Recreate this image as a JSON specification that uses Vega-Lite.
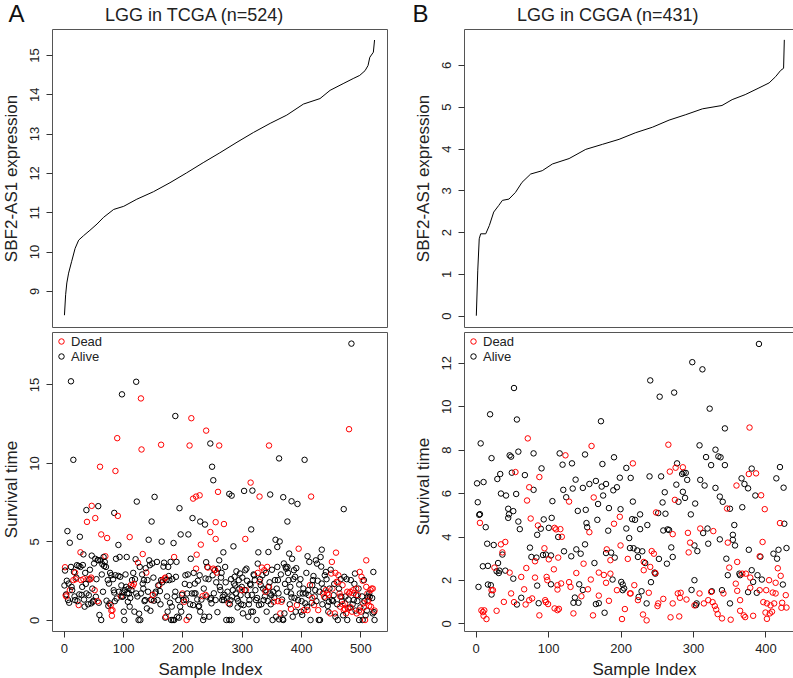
{
"$schema":"https://vega.github.io/schema/vega-lite/v6.json",
"padding":{"left":1,"top":2,"right":3,"bottom":0},
"config":{
 "font":"Liberation Sans",
 "view":{"stroke":"#555","strokeWidth":1},
 "axis":{"grid":false,"domain":false,"tickColor":"#333","tickSize":6,"labelFontSize":13,"titleFontSize":17,"titleFontWeight":"normal","labelColor":"#222","titleColor":"#222","labelFont":"Liberation Sans","titleFont":"Liberation Sans","labelOverlap":false,"labelFlush":false},
 "axisLeft":{"labelAngle":-90,"labelAlign":"center","labelBaseline":"bottom","labelPadding":5,"titlePadding":8},
 "axisBottom":{"labelPadding":5,"titlePadding":6},
 "legend":{"orient":"top-left","offset":3,"padding":0,"labelFontSize":13,"labelColor":"#222","symbolSize":30,"symbolStrokeWidth":1,"rowPadding":1,"labelOffset":3,"symbolType":"circle"},
 "title":{"font":"Liberation Sans","fontWeight":"normal","color":"#222"}
},
"datasets":{
"lineA":[{"i":1,"v":8.38},{"i":3,"v":8.9},{"i":5,"v":9.2},{"i":8,"v":9.45},{"i":13,"v":9.74},{"i":19,"v":10.08},{"i":25,"v":10.29},{"i":33,"v":10.4},{"i":44,"v":10.54},{"i":56,"v":10.7},{"i":67,"v":10.87},{"i":84,"v":11.07},{"i":101,"v":11.15},{"i":123,"v":11.33},{"i":151,"v":11.52},{"i":179,"v":11.75},{"i":207,"v":12.0},{"i":235,"v":12.26},{"i":263,"v":12.51},{"i":292,"v":12.78},{"i":320,"v":13.03},{"i":348,"v":13.26},{"i":376,"v":13.47},{"i":404,"v":13.75},{"i":432,"v":13.89},{"i":449,"v":14.1},{"i":471,"v":14.27},{"i":488,"v":14.4},{"i":499,"v":14.48},{"i":508,"v":14.6},{"i":513,"v":14.73},{"i":516,"v":14.94},{"i":522,"v":15.07},{"i":524,"v":15.38}],
"lineB":[{"i":1,"v":0},{"i":3,"v":1.09},{"i":5,"v":1.84},{"i":7,"v":1.96},{"i":14,"v":1.96},{"i":19,"v":2.16},{"i":25,"v":2.48},{"i":32,"v":2.64},{"i":37,"v":2.76},{"i":46,"v":2.79},{"i":55,"v":2.95},{"i":64,"v":3.19},{"i":76,"v":3.39},{"i":92,"v":3.47},{"i":106,"v":3.63},{"i":129,"v":3.76},{"i":152,"v":3.98},{"i":175,"v":4.1},{"i":198,"v":4.22},{"i":221,"v":4.38},{"i":244,"v":4.51},{"i":267,"v":4.68},{"i":290,"v":4.81},{"i":313,"v":4.95},{"i":340,"v":5.03},{"i":354,"v":5.17},{"i":372,"v":5.29},{"i":391,"v":5.45},{"i":405,"v":5.57},{"i":414,"v":5.72},{"i":421,"v":5.87},{"i":425,"v":5.92},{"i":426,"v":6.6}],
"scatA":[
{"i":12,"t":15.2,"s":"Alive"},{"i":16,"t":10.2,"s":"Alive"},{"i":6,"t":5.66,"s":"Alive"},{"i":10,"t":4.92,"s":"Alive"},{"i":27,"t":5.3,"s":"Alive"},{"i":38,"t":7.0,"s":"Alive"},{"i":58,"t":7.25,"s":"Alive"},{"i":85,"t":6.82,"s":"Alive"},{"i":92,"t":4.78,"s":"Alive"},{"i":98,"t":14.37,"s":"Alive"},{"i":122,"t":15.17,"s":"Alive"},{"i":123,"t":7.54,"s":"Alive"},{"i":143,"t":5.11,"s":"Alive"},{"i":148,"t":6.27,"s":"Alive"},{"i":153,"t":7.84,"s":"Alive"},{"i":165,"t":4.99,"s":"Alive"},{"i":188,"t":12.99,"s":"Alive"},{"i":195,"t":7.12,"s":"Alive"},{"i":197,"t":5.45,"s":"Alive"},{"i":185,"t":4.9,"s":"Alive"},{"i":210,"t":5.45,"s":"Alive"},{"i":217,"t":6.49,"s":"Alive"},{"i":230,"t":6.27,"s":"Alive"},{"i":238,"t":6.08,"s":"Alive"},{"i":247,"t":11.24,"s":"Alive"},{"i":250,"t":9.76,"s":"Alive"},{"i":252,"t":8.9,"s":"Alive"},{"i":269,"t":4.31,"s":"Alive"},{"i":279,"t":8.03,"s":"Alive"},{"i":283,"t":7.92,"s":"Alive"},{"i":286,"t":4.69,"s":"Alive"},{"i":304,"t":8.22,"s":"Alive"},{"i":318,"t":8.24,"s":"Alive"},{"i":316,"t":5.77,"s":"Alive"},{"i":328,"t":4.31,"s":"Alive"},{"i":345,"t":4.33,"s":"Alive"},{"i":348,"t":7.99,"s":"Alive"},{"i":357,"t":5.11,"s":"Alive"},{"i":363,"t":10.29,"s":"Alive"},{"i":364,"t":5.0,"s":"Alive"},{"i":360,"t":4.65,"s":"Alive"},{"i":370,"t":7.82,"s":"Alive"},{"i":377,"t":6.27,"s":"Alive"},{"i":380,"t":4.23,"s":"Alive"},{"i":384,"t":7.56,"s":"Alive"},{"i":394,"t":7.39,"s":"Alive"},{"i":406,"t":10.2,"s":"Alive"},{"i":411,"t":4.06,"s":"Alive"},{"i":435,"t":4.48,"s":"Alive"},{"i":472,"t":7.06,"s":"Alive"},{"i":485,"t":17.6,"s":"Alive"},
{"i":130,"t":14.11,"s":"Dead"},{"i":90,"t":11.58,"s":"Dead"},{"i":131,"t":10.86,"s":"Dead"},{"i":164,"t":11.16,"s":"Dead"},{"i":215,"t":12.85,"s":"Dead"},{"i":212,"t":11.11,"s":"Dead"},{"i":240,"t":12.06,"s":"Dead"},{"i":262,"t":11.11,"s":"Dead"},{"i":346,"t":11.11,"s":"Dead"},{"i":61,"t":9.76,"s":"Dead"},{"i":87,"t":9.49,"s":"Dead"},{"i":91,"t":6.63,"s":"Dead"},{"i":47,"t":7.27,"s":"Dead"},{"i":39,"t":6.25,"s":"Dead"},{"i":53,"t":6.49,"s":"Dead"},{"i":63,"t":5.45,"s":"Dead"},{"i":73,"t":5.22,"s":"Dead"},{"i":111,"t":5.28,"s":"Dead"},{"i":218,"t":7.73,"s":"Dead"},{"i":223,"t":7.86,"s":"Dead"},{"i":229,"t":7.94,"s":"Dead"},{"i":260,"t":8.16,"s":"Dead"},{"i":256,"t":6.23,"s":"Dead"},{"i":270,"t":6.11,"s":"Dead"},{"i":247,"t":5.6,"s":"Dead"},{"i":256,"t":5.16,"s":"Dead"},{"i":231,"t":4.8,"s":"Dead"},{"i":315,"t":8.75,"s":"Dead"},{"i":330,"t":7.86,"s":"Dead"},{"i":306,"t":5.16,"s":"Dead"},{"i":417,"t":7.86,"s":"Dead"},{"i":396,"t":4.54,"s":"Dead"},{"i":481,"t":12.15,"s":"Dead"},{"i":28,"t":4.31,"s":"Dead"},{"i":133,"t":4.2,"s":"Dead"},{"i":70,"t":4.06,"s":"Dead"},{"i":186,"t":4.01,"s":"Dead"},{"i":459,"t":4.29,"s":"Dead"},{"i":510,"t":3.8,"s":"Dead"},{"i":224,"t":4.16,"s":"Dead"},
{"i":2,"t":3.36,"s":"Dead"},{"i":3,"t":1.58,"s":"Dead"},{"i":2,"t":3.15,"s":"Alive"},{"i":4,"t":1.63,"s":"Alive"},{"i":7,"t":1.27,"s":"Alive"},{"i":10,"t":1.9,"s":"Dead"},{"i":8,"t":2.32,"s":"Alive"},{"i":12,"t":3.38,"s":"Alive"},{"i":13,"t":2.11,"s":"Alive"},{"i":16,"t":2.54,"s":"Dead"},{"i":17,"t":3.06,"s":"Alive"},{"i":19,"t":3.02,"s":"Dead"},{"i":19,"t":1.27,"s":"Alive"},{"i":22,"t":3.49,"s":"Alive"},{"i":25,"t":3.44,"s":"Alive"},{"i":25,"t":0.95,"s":"Dead"},{"i":26,"t":1.63,"s":"Alive"},{"i":28,"t":3.38,"s":"Alive"},{"i":29,"t":2.54,"s":"Dead"},{"i":31,"t":2.11,"s":"Alive"},{"i":33,"t":4.18,"s":"Alive"},{"i":33,"t":2.6,"s":"Dead"},{"i":35,"t":0.85,"s":"Alive"},{"i":36,"t":3.0,"s":"Alive"},{"i":38,"t":1.69,"s":"Alive"},{"i":40,"t":2.6,"s":"Dead"},{"i":42,"t":1.58,"s":"Alive"},{"i":43,"t":2.58,"s":"Alive"},{"i":45,"t":2.6,"s":"Dead"},{"i":46,"t":1.06,"s":"Alive"},{"i":47,"t":4.1,"s":"Alive"},{"i":49,"t":1.16,"s":"Alive"},{"i":50,"t":1.23,"s":"Alive"},{"i":52,"t":1.9,"s":"Dead"},{"i":53,"t":3.9,"s":"Alive"},{"i":54,"t":1.48,"s":"Alive"},{"i":57,"t":3.82,"s":"Alive"},{"i":58,"t":3.8,"s":"Alive"},{"i":60,"t":0.32,"s":"Alive"},{"i":62,"t":3.8,"s":"Alive"},{"i":63,"t":0.0,"s":"Alive"},{"i":65,"t":3.55,"s":"Alive"},{"i":67,"t":4.01,"s":"Alive"},{"i":68,"t":3.44,"s":"Alive"},{"i":71,"t":3.38,"s":"Alive"},{"i":72,"t":1.23,"s":"Alive"},{"i":74,"t":2.54,"s":"Alive"},{"i":76,"t":2.32,"s":"Alive"},{"i":77,"t":1.06,"s":"Alive"},{"i":79,"t":0.95,"s":"Dead"},{"i":80,"t":2.85,"s":"Alive"},{"i":81,"t":0.27,"s":"Dead"},{"i":82,"t":0.63,"s":"Dead"},{"i":84,"t":1.9,"s":"Alive"},{"i":85,"t":1.75,"s":"Alive"},{"i":87,"t":2.85,"s":"Alive"},{"i":89,"t":1.37,"s":"Alive"},{"i":92,"t":2.81,"s":"Alive"},{"i":94,"t":4.01,"s":"Alive"},{"i":95,"t":2.75,"s":"Alive"},{"i":96,"t":1.52,"s":"Dead"},{"i":98,"t":1.48,"s":"Alive"},{"i":99,"t":1.75,"s":"Alive"},{"i":101,"t":0.53,"s":"Alive"},{"i":102,"t":0,"s":"Alive"},{"i":103,"t":1.9,"s":"Alive"},{"i":105,"t":2.11,"s":"Alive"},{"i":106,"t":4.01,"s":"Alive"},{"i":108,"t":1.16,"s":"Alive"},{"i":110,"t":1.69,"s":"Alive"},{"i":111,"t":0.85,"s":"Alive"},{"i":113,"t":2.22,"s":"Dead"},{"i":115,"t":2.54,"s":"Alive"},{"i":116,"t":2.16,"s":"Dead"},{"i":119,"t":0.53,"s":"Alive"},{"i":121,"t":3.87,"s":"Alive"},{"i":122,"t":1.69,"s":"Alive"},{"i":125,"t":3.65,"s":"Dead"},{"i":126,"t":0,"s":"Alive"},{"i":128,"t":3.38,"s":"Alive"},{"i":129,"t":0,"s":"Alive"},{"i":130,"t":1.69,"s":"Alive"},{"i":133,"t":2.32,"s":"Alive"},{"i":135,"t":2.54,"s":"Alive"},{"i":139,"t":3.02,"s":"Dead"},{"i":137,"t":1.27,"s":"Alive"},{"i":140,"t":0.74,"s":"Alive"},{"i":141,"t":2.54,"s":"Alive"},{"i":144,"t":3.8,"s":"Alive"},{"i":145,"t":3.49,"s":"Alive"},{"i":146,"t":0.59,"s":"Alive"},{"i":148,"t":1.27,"s":"Dead"},{"i":151,"t":2.7,"s":"Alive"},{"i":152,"t":1.23,"s":"Alive"},{"i":154,"t":1.69,"s":"Alive"},{"i":157,"t":3.7,"s":"Alive"},{"i":158,"t":1.27,"s":"Alive"},{"i":161,"t":2.22,"s":"Dead"},{"i":162,"t":1.84,"s":"Alive"},{"i":164,"t":2.54,"s":"Alive"},{"i":167,"t":2.54,"s":"Dead"},{"i":169,"t":3.65,"s":"Alive"},{"i":170,"t":2.64,"s":"Dead"},{"i":171,"t":0.15,"s":"Alive"},{"i":172,"t":0.21,"s":"Dead"},{"i":173,"t":2.54,"s":"Alive"},{"i":175,"t":0.53,"s":"Alive"},{"i":176,"t":3.38,"s":"Alive"},{"i":178,"t":2.54,"s":"Alive"},{"i":180,"t":3.7,"s":"Alive"},{"i":181,"t":0,"s":"Alive"},{"i":182,"t":0.85,"s":"Alive"},{"i":184,"t":0,"s":"Alive"},{"i":186,"t":0,"s":"Alive"},{"i":188,"t":1.8,"s":"Alive"},{"i":189,"t":2.75,"s":"Alive"},{"i":191,"t":0.21,"s":"Alive"},{"i":193,"t":1.27,"s":"Alive"},{"i":194,"t":0.15,"s":"Alive"},{"i":196,"t":0.85,"s":"Alive"},{"i":198,"t":0.53,"s":"Alive"},{"i":200,"t":1.69,"s":"Dead"},{"i":202,"t":1.27,"s":"Alive"},{"i":203,"t":1.16,"s":"Dead"},{"i":205,"t":2.85,"s":"Alive"},{"i":207,"t":0,"s":"Dead"},{"i":208,"t":1.69,"s":"Alive"},{"i":211,"t":0.21,"s":"Alive"},{"i":212,"t":2.22,"s":"Alive"},{"i":214,"t":3.9,"s":"Alive"},{"i":216,"t":1.69,"s":"Alive"},{"i":218,"t":0.95,"s":"Alive"},{"i":220,"t":1.69,"s":"Alive"},{"i":221,"t":2.32,"s":"Alive"},{"i":223,"t":3.27,"s":"Dead"},{"i":225,"t":1.31,"s":"Alive"},{"i":227,"t":0.85,"s":"Alive"},{"i":229,"t":2.85,"s":"Alive"},{"i":230,"t":0.53,"s":"Alive"},{"i":234,"t":1.52,"s":"Dead"},{"i":235,"t":0,"s":"Alive"},{"i":237,"t":0.21,"s":"Alive"},{"i":239,"t":2.64,"s":"Alive"},{"i":240,"t":3.68,"s":"Alive"},{"i":242,"t":3.38,"s":"Alive"},{"i":243,"t":3.34,"s":"Dead"},{"i":245,"t":0.21,"s":"Alive"},{"i":247,"t":1.31,"s":"Alive"},{"i":249,"t":1.06,"s":"Alive"},{"i":251,"t":2.85,"s":"Alive"},{"i":252,"t":3.27,"s":"Dead"},{"i":254,"t":3.17,"s":"Alive"},{"i":256,"t":1.27,"s":"Alive"},{"i":258,"t":3.02,"s":"Dead"},{"i":260,"t":3.27,"s":"Alive"},{"i":262,"t":3.8,"s":"Alive"},{"i":263,"t":2.11,"s":"Alive"},{"i":265,"t":2.7,"s":"Alive"},{"i":267,"t":1.27,"s":"Alive"},{"i":268,"t":1.48,"s":"Alive"},{"i":270,"t":1.27,"s":"Alive"},{"i":272,"t":3.38,"s":"Alive"},{"i":274,"t":0,"s":"Alive"},{"i":275,"t":1.37,"s":"Alive"},{"i":278,"t":1.06,"s":"Dead"},{"i":279,"t":0,"s":"Alive"},{"i":281,"t":1.27,"s":"Alive"},{"i":283,"t":0,"s":"Alive"},{"i":285,"t":1.9,"s":"Alive"},{"i":287,"t":2.32,"s":"Alive"},{"i":288,"t":2.75,"s":"Alive"},{"i":290,"t":1.69,"s":"Alive"},{"i":292,"t":1.37,"s":"Alive"},{"i":293,"t":0.8,"s":"Alive"},{"i":295,"t":2.54,"s":"Alive"},{"i":297,"t":2.96,"s":"Alive"},{"i":298,"t":1.58,"s":"Alive"},{"i":300,"t":2.11,"s":"Alive"},{"i":302,"t":0.42,"s":"Alive"},{"i":303,"t":0.95,"s":"Alive"},{"i":306,"t":3.17,"s":"Alive"},{"i":308,"t":3.27,"s":"Alive"},{"i":307,"t":1.9,"s":"Dead"},{"i":310,"t":1.58,"s":"Alive"},{"i":311,"t":0.21,"s":"Alive"},{"i":313,"t":1.27,"s":"Alive"},{"i":315,"t":2.22,"s":"Alive"},{"i":316,"t":0.53,"s":"Alive"},{"i":319,"t":0.53,"s":"Alive"},{"i":321,"t":2.85,"s":"Alive"},{"i":322,"t":2.54,"s":"Alive"},{"i":324,"t":1.27,"s":"Alive"},{"i":325,"t":0,"s":"Alive"},{"i":327,"t":3.59,"s":"Alive"},{"i":329,"t":0.95,"s":"Alive"},{"i":330,"t":2.43,"s":"Dead"},{"i":332,"t":2.22,"s":"Alive"},{"i":334,"t":3.34,"s":"Dead"},{"i":335,"t":2.85,"s":"Alive"},{"i":337,"t":1.27,"s":"Alive"},{"i":338,"t":3.17,"s":"Dead"},{"i":340,"t":1.9,"s":"Alive"},{"i":342,"t":0.53,"s":"Alive"},{"i":343,"t":3.38,"s":"Dead"},{"i":345,"t":2.11,"s":"Alive"},{"i":346,"t":2.11,"s":"Dead"},{"i":348,"t":1.69,"s":"Alive"},{"i":350,"t":1.58,"s":"Alive"},{"i":352,"t":0,"s":"Alive"},{"i":354,"t":1.16,"s":"Dead"},{"i":356,"t":2.54,"s":"Alive"},{"i":358,"t":0.21,"s":"Alive"},{"i":360,"t":3.38,"s":"Alive"},{"i":361,"t":2.54,"s":"Alive"},{"i":363,"t":0.04,"s":"Alive"},{"i":365,"t":0.42,"s":"Dead"},{"i":367,"t":1.16,"s":"Dead"},{"i":369,"t":0.04,"s":"Alive"},{"i":370,"t":0,"s":"Alive"},{"i":372,"t":0.42,"s":"Alive"},{"i":374,"t":3.38,"s":"Alive"},{"i":375,"t":3.27,"s":"Alive"},{"i":377,"t":3.38,"s":"Alive"},{"i":379,"t":2.54,"s":"Alive"},{"i":382,"t":2.11,"s":"Alive"},{"i":383,"t":1.69,"s":"Alive"},{"i":384,"t":1.44,"s":"Alive"},{"i":386,"t":0.21,"s":"Alive"},{"i":388,"t":3.17,"s":"Alive"},{"i":390,"t":2.75,"s":"Alive"},{"i":391,"t":0.53,"s":"Alive"},{"i":393,"t":0.95,"s":"Dead"},{"i":395,"t":1.27,"s":"Alive"},{"i":397,"t":2.26,"s":"Alive"},{"i":398,"t":1.69,"s":"Alive"},{"i":400,"t":0.53,"s":"Alive"},{"i":402,"t":0.32,"s":"Alive"},{"i":403,"t":1.69,"s":"Alive"},{"i":405,"t":0.63,"s":"Dead"},{"i":407,"t":1.06,"s":"Alive"},{"i":408,"t":1.69,"s":"Alive"},{"i":410,"t":0.85,"s":"Alive"},{"i":411,"t":0.63,"s":"Dead"},{"i":413,"t":1.58,"s":"Alive"},{"i":415,"t":2.22,"s":"Dead"},{"i":416,"t":0,"s":"Alive"},{"i":419,"t":2.22,"s":"Alive"},{"i":420,"t":2.54,"s":"Alive"},{"i":422,"t":0.95,"s":"Dead"},{"i":424,"t":1.9,"s":"Alive"},{"i":425,"t":3.8,"s":"Alive"},{"i":427,"t":3.59,"s":"Alive"},{"i":429,"t":0.63,"s":"Dead"},{"i":430,"t":0,"s":"Alive"},{"i":432,"t":0,"s":"Alive"},{"i":433,"t":4.01,"s":"Alive"},{"i":435,"t":2.32,"s":"Alive"},{"i":437,"t":1.69,"s":"Dead"},{"i":439,"t":1.48,"s":"Dead"},{"i":440,"t":2.85,"s":"Alive"},{"i":442,"t":3.06,"s":"Alive"},{"i":444,"t":1.69,"s":"Dead"},{"i":446,"t":0.53,"s":"Alive"},{"i":447,"t":1.16,"s":"Alive"},{"i":449,"t":0.42,"s":"Dead"},{"i":451,"t":2.96,"s":"Dead"},{"i":452,"t":1.27,"s":"Alive"},{"i":453,"t":2.0,"s":"Dead"},{"i":455,"t":1.58,"s":"Alive"},{"i":457,"t":0.42,"s":"Dead"},{"i":458,"t":0.21,"s":"Alive"},{"i":460,"t":2.43,"s":"Dead"},{"i":462,"t":0,"s":"Alive"},{"i":463,"t":2.85,"s":"Dead"},{"i":465,"t":1.69,"s":"Dead"},{"i":466,"t":0.85,"s":"Dead"},{"i":468,"t":1.48,"s":"Alive"},{"i":470,"t":2.22,"s":"Dead"},{"i":472,"t":0.63,"s":"Dead"},{"i":473,"t":2.75,"s":"Alive"},{"i":474,"t":1.06,"s":"Dead"},{"i":476,"t":0.42,"s":"Dead"},{"i":478,"t":0,"s":"Alive"},{"i":479,"t":0.74,"s":"Dead"},{"i":481,"t":1.69,"s":"Dead"},{"i":483,"t":1.8,"s":"Dead"},{"i":484,"t":2.54,"s":"Alive"},{"i":486,"t":0.53,"s":"Dead"},{"i":488,"t":1.9,"s":"Dead"},{"i":489,"t":1.27,"s":"Alive"},{"i":491,"t":2.96,"s":"Alive"},{"i":493,"t":1.58,"s":"Alive"},{"i":494,"t":0.42,"s":"Dead"},{"i":496,"t":1.58,"s":"Dead"},{"i":498,"t":0,"s":"Alive"},{"i":499,"t":3.06,"s":"Dead"},{"i":501,"t":0.53,"s":"Dead"},{"i":502,"t":2.75,"s":"Dead"},{"i":504,"t":0,"s":"Alive"},{"i":505,"t":1.06,"s":"Dead"},{"i":506,"t":2.54,"s":"Alive"},{"i":508,"t":0,"s":"Dead"},{"i":510,"t":2.11,"s":"Dead"},{"i":512,"t":1.69,"s":"Dead"},{"i":514,"t":1.27,"s":"Dead"},{"i":515,"t":1.69,"s":"Alive"},{"i":516,"t":1.48,"s":"Alive"},{"i":517,"t":1.9,"s":"Dead"},{"i":519,"t":2.0,"s":"Dead"},{"i":521,"t":0.42,"s":"Alive"},{"i":522,"t":3.06,"s":"Alive"},{"i":524,"t":0,"s":"Alive"},{"i":518,"t":0.85,"s":"Dead"},
{"i":1,"t":2.2,"s":"Alive"},{"i":5,"t":2.5,"s":"Alive"},{"i":9,"t":1.1,"s":"Alive"},{"i":14,"t":1.9,"s":"Alive"},{"i":18,"t":1.5,"s":"Alive"},{"i":21,"t":2.7,"s":"Alive"},{"i":23,"t":1.2,"s":"Alive"},{"i":30,"t":1.6,"s":"Alive"},{"i":32,"t":3.5,"s":"Alive"},{"i":34,"t":1.3,"s":"Alive"},{"i":37,"t":2.3,"s":"Alive"},{"i":41,"t":1.0,"s":"Alive"},{"i":44,"t":3.2,"s":"Alive"},{"i":48,"t":2.0,"s":"Alive"},{"i":51,"t":3.6,"s":"Alive"},{"i":55,"t":2.6,"s":"Alive"},{"i":59,"t":1.1,"s":"Alive"},{"i":64,"t":2.9,"s":"Alive"},{"i":66,"t":1.8,"s":"Alive"},{"i":69,"t":3.7,"s":"Alive"},{"i":75,"t":0.9,"s":"Alive"},{"i":78,"t":3.0,"s":"Alive"},{"i":83,"t":2.6,"s":"Alive"},{"i":86,"t":1.2,"s":"Alive"},{"i":88,"t":3.9,"s":"Alive"},{"i":93,"t":1.8,"s":"Alive"},{"i":97,"t":2.2,"s":"Alive"},{"i":100,"t":1.5,"s":"Alive"},{"i":104,"t":2.9,"s":"Alive"},{"i":107,"t":1.7,"s":"Alive"},{"i":109,"t":2.0,"s":"Alive"},{"i":112,"t":1.4,"s":"Alive"},{"i":114,"t":1.9,"s":"Alive"},{"i":117,"t":3.0,"s":"Alive"},{"i":120,"t":2.6,"s":"Alive"},{"i":124,"t":1.5,"s":"Alive"},{"i":127,"t":0.4,"s":"Alive"},{"i":132,"t":2.9,"s":"Alive"},{"i":134,"t":2.0,"s":"Alive"},{"i":136,"t":1.2,"s":"Alive"},{"i":138,"t":3.3,"s":"Alive"},{"i":142,"t":1.8,"s":"Alive"},{"i":147,"t":1.3,"s":"Alive"},{"i":149,"t":3.6,"s":"Alive"},{"i":155,"t":1.8,"s":"Alive"},{"i":159,"t":2.2,"s":"Alive"},{"i":163,"t":1.0,"s":"Alive"},{"i":166,"t":2.4,"s":"Alive"},{"i":168,"t":3.4,"s":"Alive"},{"i":174,"t":1.5,"s":"Alive"},{"i":177,"t":2.8,"s":"Alive"},{"i":179,"t":1.1,"s":"Alive"},{"i":183,"t":2.6,"s":"Alive"},{"i":187,"t":1.5,"s":"Alive"},{"i":190,"t":3.7,"s":"Alive"},{"i":199,"t":1.6,"s":"Alive"},{"i":204,"t":2.3,"s":"Alive"},{"i":206,"t":1.3,"s":"Alive"},{"i":209,"t":2.9,"s":"Alive"},{"i":213,"t":1.0,"s":"Alive"},{"i":219,"t":3.0,"s":"Alive"},{"i":222,"t":1.7,"s":"Alive"},{"i":226,"t":2.5,"s":"Alive"},{"i":228,"t":0.9,"s":"Alive"},{"i":232,"t":1.3,"s":"Alive"},{"i":236,"t":2.0,"s":"Alive"},{"i":241,"t":1.5,"s":"Alive"},{"i":244,"t":2.6,"s":"Alive"},{"i":248,"t":1.4,"s":"Alive"},{"i":253,"t":1.7,"s":"Alive"},{"i":257,"t":2.4,"s":"Alive"},{"i":259,"t":0.5,"s":"Alive"},{"i":264,"t":1.9,"s":"Alive"},{"i":266,"t":3.0,"s":"Alive"},{"i":271,"t":1.6,"s":"Alive"},{"i":273,"t":2.4,"s":"Alive"},{"i":276,"t":1.8,"s":"Alive"},{"i":280,"t":1.0,"s":"Alive"},{"i":282,"t":2.6,"s":"Alive"},{"i":284,"t":1.5,"s":"Alive"},{"i":289,"t":2.2,"s":"Alive"},{"i":291,"t":3.1,"s":"Alive"},{"i":294,"t":1.2,"s":"Alive"},{"i":296,"t":2.0,"s":"Alive"},{"i":299,"t":1.0,"s":"Alive"},{"i":301,"t":2.7,"s":"Alive"},{"i":305,"t":1.9,"s":"Alive"},{"i":309,"t":2.5,"s":"Alive"},{"i":312,"t":1.0,"s":"Alive"},{"i":314,"t":2.3,"s":"Alive"},{"i":317,"t":1.6,"s":"Alive"},{"i":320,"t":2.9,"s":"Alive"},{"i":323,"t":1.9,"s":"Alive"},{"i":326,"t":1.4,"s":"Alive"},{"i":331,"t":2.6,"s":"Alive"},{"i":333,"t":1.0,"s":"Alive"},{"i":336,"t":2.0,"s":"Alive"},{"i":339,"t":1.5,"s":"Alive"},{"i":341,"t":3.0,"s":"Alive"},{"i":344,"t":1.2,"s":"Alive"},{"i":347,"t":2.4,"s":"Alive"},{"i":349,"t":1.0,"s":"Alive"},{"i":351,"t":3.2,"s":"Alive"},{"i":353,"t":1.8,"s":"Alive"},{"i":355,"t":1.4,"s":"Alive"},{"i":359,"t":2.0,"s":"Alive"},{"i":362,"t":1.7,"s":"Alive"},{"i":366,"t":2.9,"s":"Alive"},{"i":368,"t":1.3,"s":"Alive"},{"i":371,"t":3.6,"s":"Alive"},{"i":373,"t":2.3,"s":"Alive"},{"i":376,"t":1.8,"s":"Alive"},{"i":378,"t":3.0,"s":"Alive"},{"i":381,"t":1.0,"s":"Alive"},{"i":385,"t":3.9,"s":"Alive"},{"i":387,"t":2.6,"s":"Alive"},{"i":389,"t":1.4,"s":"Alive"},{"i":392,"t":3.3,"s":"Alive"},{"i":399,"t":2.6,"s":"Alive"},{"i":401,"t":1.2,"s":"Alive"},{"i":404,"t":2.0,"s":"Alive"},{"i":409,"t":3.0,"s":"Alive"},{"i":412,"t":1.9,"s":"Alive"},{"i":414,"t":3.7,"s":"Alive"},{"i":418,"t":1.1,"s":"Alive"},{"i":421,"t":2.8,"s":"Alive"},{"i":423,"t":1.5,"s":"Alive"},{"i":426,"t":1.2,"s":"Alive"},{"i":428,"t":2.5,"s":"Alive"},{"i":431,"t":1.8,"s":"Alive"},{"i":434,"t":3.4,"s":"Alive"},{"i":436,"t":1.0,"s":"Alive"},{"i":438,"t":2.0,"s":"Alive"},{"i":441,"t":1.4,"s":"Alive"},{"i":443,"t":2.6,"s":"Alive"},{"i":445,"t":0.9,"s":"Alive"},{"i":448,"t":2.0,"s":"Alive"},{"i":450,"t":3.2,"s":"Alive"},{"i":454,"t":1.2,"s":"Alive"},{"i":456,"t":2.3,"s":"Alive"},{"i":461,"t":1.0,"s":"Alive"},{"i":464,"t":2.0,"s":"Alive"},{"i":467,"t":2.6,"s":"Alive"},{"i":469,"t":1.2,"s":"Alive"},{"i":471,"t":0.3,"s":"Alive"},{"i":475,"t":1.5,"s":"Alive"},{"i":477,"t":2.6,"s":"Alive"},{"i":480,"t":1.3,"s":"Alive"},{"i":482,"t":0.8,"s":"Alive"},{"i":487,"t":1.0,"s":"Alive"},{"i":490,"t":2.3,"s":"Alive"},{"i":492,"t":0.6,"s":"Alive"},{"i":495,"t":1.2,"s":"Alive"},{"i":497,"t":2.0,"s":"Alive"},{"i":500,"t":0.8,"s":"Alive"},{"i":503,"t":1.5,"s":"Alive"},{"i":507,"t":1.2,"s":"Alive"},{"i":509,"t":0.3,"s":"Alive"},{"i":511,"t":0.6,"s":"Alive"},{"i":513,"t":1.5,"s":"Alive"},{"i":520,"t":1.4,"s":"Alive"},{"i":523,"t":0.5,"s":"Alive"},
{"i":4,"t":1.5,"s":"Dead"},{"i":20,"t":2.6,"s":"Dead"},{"i":46,"t":2.7,"s":"Dead"},{"i":57,"t":1.2,"s":"Dead"},{"i":80,"t":0.6,"s":"Dead"},{"i":118,"t":2.3,"s":"Dead"},{"i":150,"t":1.6,"s":"Dead"},{"i":171,"t":2.7,"s":"Dead"},{"i":239,"t":1.6,"s":"Dead"},{"i":255,"t":3.2,"s":"Dead"},{"i":300,"t":1.9,"s":"Dead"},{"i":327,"t":3.0,"s":"Dead"},{"i":340,"t":1.8,"s":"Dead"},{"i":361,"t":1.2,"s":"Dead"},{"i":383,"t":0.7,"s":"Dead"},{"i":419,"t":1.4,"s":"Dead"},{"i":442,"t":1.9,"s":"Dead"},{"i":447,"t":1.6,"s":"Dead"},{"i":452,"t":3.7,"s":"Dead"},{"i":458,"t":3.0,"s":"Dead"},{"i":462,"t":2.4,"s":"Dead"},{"i":466,"t":1.5,"s":"Dead"},{"i":470,"t":1.0,"s":"Dead"},{"i":474,"t":0.7,"s":"Dead"},{"i":478,"t":1.8,"s":"Dead"},{"i":484,"t":0.8,"s":"Dead"},{"i":489,"t":1.7,"s":"Dead"},{"i":493,"t":2.0,"s":"Dead"},{"i":498,"t":0.6,"s":"Dead"},{"i":504,"t":2.5,"s":"Dead"},{"i":506,"t":0.8,"s":"Dead"},{"i":512,"t":1.2,"s":"Dead"},{"i":515,"t":0.9,"s":"Dead"},{"i":521,"t":2.0,"s":"Dead"},{"i":524,"t":0.6,"s":"Dead"}
],
"scatB":[
{"i":391,"t":12.87,"s":"Alive"},{"i":299,"t":12.03,"s":"Alive"},{"i":313,"t":11.7,"s":"Alive"},{"i":241,"t":11.19,"s":"Alive"},{"i":254,"t":10.44,"s":"Alive"},{"i":274,"t":10.63,"s":"Alive"},{"i":53,"t":10.84,"s":"Alive"},{"i":323,"t":9.89,"s":"Alive"},{"i":20,"t":9.63,"s":"Alive"},{"i":57,"t":9.39,"s":"Alive"},{"i":173,"t":9.31,"s":"Alive"},{"i":344,"t":8.98,"s":"Alive"},{"i":7,"t":8.29,"s":"Alive"},{"i":309,"t":8.2,"s":"Alive"},{"i":331,"t":8.0,"s":"Alive"},{"i":22,"t":7.61,"s":"Alive"},{"i":47,"t":7.74,"s":"Alive"},{"i":49,"t":7.68,"s":"Alive"},{"i":59,"t":7.91,"s":"Alive"},{"i":80,"t":7.83,"s":"Alive"},{"i":116,"t":7.83,"s":"Alive"},{"i":151,"t":7.78,"s":"Alive"},{"i":191,"t":7.65,"s":"Alive"},{"i":318,"t":7.66,"s":"Alive"},{"i":335,"t":7.69,"s":"Alive"},{"i":338,"t":7.65,"s":"Alive"},{"i":325,"t":7.29,"s":"Alive"},{"i":344,"t":7.29,"s":"Alive"},{"i":278,"t":7.37,"s":"Alive"},{"i":175,"t":7.34,"s":"Alive"},{"i":120,"t":7.31,"s":"Alive"},{"i":133,"t":7.37,"s":"Alive"},{"i":208,"t":7.16,"s":"Alive"},{"i":285,"t":6.88,"s":"Alive"},{"i":381,"t":7.13,"s":"Alive"},{"i":420,"t":7.2,"s":"Alive"},{"i":91,"t":7.14,"s":"Alive"},{"i":287,"t":6.94,"s":"Alive"},{"i":290,"t":6.93,"s":"Alive"},{"i":34,"t":6.88,"s":"Alive"},{"i":50,"t":6.94,"s":"Alive"},{"i":68,"t":6.83,"s":"Alive"},{"i":240,"t":6.77,"s":"Alive"},{"i":256,"t":6.77,"s":"Alive"},{"i":214,"t":6.7,"s":"Alive"},{"i":199,"t":6.71,"s":"Alive"},{"i":367,"t":6.68,"s":"Alive"},{"i":415,"t":6.68,"s":"Alive"},{"i":310,"t":6.61,"s":"Alive"},{"i":292,"t":6.61,"s":"Alive"},{"i":30,"t":6.65,"s":"Alive"},{"i":2,"t":6.45,"s":"Alive"},{"i":11,"t":6.51,"s":"Alive"},{"i":138,"t":6.62,"s":"Alive"},{"i":166,"t":6.56,"s":"Alive"},{"i":157,"t":6.42,"s":"Alive"},{"i":180,"t":6.42,"s":"Alive"},{"i":174,"t":6.3,"s":"Alive"},{"i":371,"t":6.42,"s":"Alive"},{"i":277,"t":6.39,"s":"Alive"},{"i":316,"t":6.35,"s":"Alive"},{"i":376,"t":6.22,"s":"Alive"},{"i":425,"t":6.25,"s":"Alive"},{"i":331,"t":6.24,"s":"Alive"},{"i":121,"t":6.15,"s":"Alive"},{"i":134,"t":6.21,"s":"Alive"},{"i":148,"t":6.24,"s":"Alive"},{"i":190,"t":6.13,"s":"Alive"},{"i":195,"t":6.27,"s":"Alive"},{"i":80,"t":6.15,"s":"Alive"},{"i":35,"t":5.98,"s":"Alive"},{"i":42,"t":5.89,"s":"Alive"},{"i":56,"t":5.96,"s":"Alive"},{"i":261,"t":6.04,"s":"Alive"},{"i":286,"t":6.06,"s":"Alive"},{"i":386,"t":5.89,"s":"Alive"},{"i":337,"t":5.84,"s":"Alive"},{"i":341,"t":5.6,"s":"Alive"},{"i":289,"t":5.78,"s":"Alive"},{"i":3,"t":5.58,"s":"Alive"},{"i":125,"t":5.81,"s":"Alive"},{"i":176,"t":5.89,"s":"Alive"},{"i":106,"t":5.63,"s":"Alive"},{"i":217,"t":5.61,"s":"Alive"},{"i":280,"t":5.6,"s":"Alive"},{"i":303,"t":5.52,"s":"Alive"},{"i":258,"t":5.57,"s":"Alive"},{"i":6,"t":5.03,"s":"Alive"},{"i":5,"t":5.0,"s":"Alive"},{"i":52,"t":5.17,"s":"Alive"},{"i":45,"t":5.28,"s":"Alive"},{"i":46,"t":5.02,"s":"Alive"},{"i":141,"t":5.18,"s":"Alive"},{"i":152,"t":5.23,"s":"Alive"},{"i":169,"t":5.5,"s":"Alive"},{"i":184,"t":5.31,"s":"Alive"},{"i":200,"t":5.26,"s":"Alive"},{"i":227,"t":5.02,"s":"Alive"},{"i":252,"t":5.08,"s":"Alive"},{"i":262,"t":5.05,"s":"Alive"},{"i":351,"t":5.28,"s":"Alive"},{"i":368,"t":5.35,"s":"Alive"},{"i":297,"t":5.02,"s":"Alive"},{"i":45,"t":4.86,"s":"Alive"},{"i":94,"t":4.79,"s":"Alive"},{"i":105,"t":4.86,"s":"Alive"},{"i":168,"t":4.77,"s":"Alive"},{"i":216,"t":4.8,"s":"Alive"},{"i":220,"t":4.77,"s":"Alive"},{"i":153,"t":4.62,"s":"Alive"},{"i":59,"t":4.69,"s":"Alive"},{"i":61,"t":4.34,"s":"Alive"},{"i":14,"t":4.43,"s":"Alive"},{"i":85,"t":4.08,"s":"Alive"},{"i":90,"t":4.36,"s":"Alive"},{"i":101,"t":4.4,"s":"Alive"},{"i":154,"t":4.43,"s":"Alive"},{"i":183,"t":4.27,"s":"Alive"},{"i":208,"t":4.37,"s":"Alive"},{"i":227,"t":4.34,"s":"Alive"},{"i":237,"t":4.53,"s":"Alive"},{"i":259,"t":4.28,"s":"Alive"},{"i":265,"t":4.33,"s":"Alive"},{"i":267,"t":4.3,"s":"Alive"},{"i":320,"t":4.37,"s":"Alive"},{"i":314,"t":4.16,"s":"Alive"},{"i":357,"t":4.53,"s":"Alive"},{"i":355,"t":4.08,"s":"Alive"},{"i":426,"t":4.59,"s":"Alive"},{"i":114,"t":3.98,"s":"Alive"},{"i":212,"t":3.93,"s":"Alive"},{"i":337,"t":3.87,"s":"Alive"},{"i":355,"t":3.85,"s":"Alive"},{"i":16,"t":3.67,"s":"Alive"},{"i":25,"t":3.61,"s":"Alive"},{"i":151,"t":3.64,"s":"Alive"},{"i":321,"t":3.67,"s":"Alive"},{"i":302,"t":3.59,"s":"Alive"},{"i":358,"t":3.59,"s":"Alive"},{"i":75,"t":3.49,"s":"Alive"},{"i":122,"t":3.32,"s":"Alive"},{"i":139,"t":3.41,"s":"Alive"},{"i":145,"t":3.21,"s":"Alive"},{"i":213,"t":3.47,"s":"Alive"},{"i":218,"t":3.46,"s":"Alive"},{"i":223,"t":3.36,"s":"Alive"},{"i":230,"t":3.32,"s":"Alive"},{"i":306,"t":3.33,"s":"Alive"},{"i":270,"t":3.5,"s":"Alive"},{"i":377,"t":3.39,"s":"Alive"},{"i":418,"t":3.39,"s":"Alive"},{"i":429,"t":3.47,"s":"Alive"},{"i":37,"t":3.17,"s":"Alive"},{"i":77,"t":3.06,"s":"Alive"},{"i":84,"t":3.03,"s":"Alive"},{"i":93,"t":3.15,"s":"Alive"},{"i":97,"t":3.17,"s":"Alive"},{"i":104,"t":3.13,"s":"Alive"},{"i":132,"t":3.09,"s":"Alive"},{"i":180,"t":3.24,"s":"Alive"},{"i":187,"t":3.26,"s":"Alive"},{"i":192,"t":3.03,"s":"Alive"},{"i":224,"t":3.06,"s":"Alive"},{"i":253,"t":2.97,"s":"Alive"},{"i":272,"t":3.06,"s":"Alive"},{"i":346,"t":2.98,"s":"Alive"},{"i":393,"t":3.07,"s":"Alive"},{"i":411,"t":3.21,"s":"Alive"},{"i":416,"t":2.98,"s":"Alive"},{"i":31,"t":2.78,"s":"Alive"},{"i":164,"t":2.78,"s":"Alive"},{"i":234,"t":2.78,"s":"Alive"},{"i":264,"t":2.75,"s":"Alive"},{"i":29,"t":2.4,"s":"Alive"},{"i":32,"t":2.32,"s":"Alive"},{"i":33,"t":2.43,"s":"Alive"},{"i":41,"t":2.43,"s":"Alive"},{"i":10,"t":2.63,"s":"Alive"},{"i":17,"t":2.65,"s":"Alive"},{"i":247,"t":2.34,"s":"Alive"},{"i":248,"t":2.29,"s":"Alive"},{"i":348,"t":2.22,"s":"Alive"},{"i":365,"t":2.22,"s":"Alive"},{"i":364,"t":2.29,"s":"Alive"},{"i":381,"t":2.45,"s":"Alive"},{"i":389,"t":2.22,"s":"Alive"},{"i":395,"t":2.02,"s":"Alive"},{"i":52,"t":2.06,"s":"Alive"},{"i":189,"t":2.02,"s":"Alive"},{"i":201,"t":1.91,"s":"Alive"},{"i":242,"t":1.9,"s":"Alive"},{"i":302,"t":1.99,"s":"Alive"},{"i":17,"t":1.79,"s":"Alive"},{"i":21,"t":1.76,"s":"Alive"},{"i":4,"t":1.68,"s":"Alive"},{"i":85,"t":1.74,"s":"Alive"},{"i":104,"t":1.8,"s":"Alive"},{"i":143,"t":1.8,"s":"Alive"},{"i":203,"t":1.79,"s":"Alive"},{"i":205,"t":1.61,"s":"Alive"},{"i":203,"t":1.53,"s":"Alive"},{"i":424,"t":1.79,"s":"Alive"},{"i":383,"t":1.91,"s":"Alive"},{"i":148,"t":1.54,"s":"Alive"},{"i":229,"t":1.48,"s":"Alive"},{"i":326,"t":1.48,"s":"Alive"},{"i":298,"t":1.54,"s":"Alive"},{"i":376,"t":1.44,"s":"Alive"},{"i":388,"t":1.41,"s":"Alive"},{"i":340,"t":1.53,"s":"Alive"},{"i":22,"t":1.33,"s":"Alive"},{"i":63,"t":1.18,"s":"Alive"},{"i":137,"t":1.19,"s":"Alive"},{"i":142,"t":0.95,"s":"Alive"},{"i":135,"t":0.95,"s":"Alive"},{"i":225,"t":1.22,"s":"Alive"},{"i":57,"t":0.87,"s":"Alive"},{"i":87,"t":0.93,"s":"Alive"},{"i":166,"t":0.89,"s":"Alive"},{"i":170,"t":0.93,"s":"Alive"},{"i":236,"t":0.92,"s":"Alive"},{"i":304,"t":0.84,"s":"Alive"},{"i":305,"t":0.92,"s":"Alive"},{"i":351,"t":0.92,"s":"Alive"},{"i":178,"t":0.49,"s":"Alive"},
{"i":378,"t":9.02,"s":"Dead"},{"i":72,"t":8.52,"s":"Dead"},{"i":160,"t":8.17,"s":"Dead"},{"i":266,"t":8.23,"s":"Dead"},{"i":124,"t":7.74,"s":"Dead"},{"i":217,"t":7.37,"s":"Dead"},{"i":286,"t":7.19,"s":"Dead"},{"i":276,"t":7.17,"s":"Dead"},{"i":55,"t":6.97,"s":"Dead"},{"i":268,"t":6.99,"s":"Dead"},{"i":377,"t":6.88,"s":"Dead"},{"i":387,"t":6.91,"s":"Dead"},{"i":88,"t":6.74,"s":"Dead"},{"i":360,"t":6.35,"s":"Dead"},{"i":74,"t":6.27,"s":"Dead"},{"i":394,"t":5.9,"s":"Dead"},{"i":275,"t":5.69,"s":"Dead"},{"i":71,"t":5.66,"s":"Dead"},{"i":129,"t":5.61,"s":"Dead"},{"i":163,"t":5.8,"s":"Dead"},{"i":347,"t":5.29,"s":"Dead"},{"i":399,"t":5.26,"s":"Dead"},{"i":249,"t":5.11,"s":"Dead"},{"i":199,"t":4.91,"s":"Dead"},{"i":76,"t":4.83,"s":"Dead"},{"i":191,"t":4.59,"s":"Dead"},{"i":6,"t":4.63,"s":"Dead"},{"i":420,"t":4.62,"s":"Dead"},{"i":109,"t":4.4,"s":"Dead"},{"i":111,"t":4.33,"s":"Dead"},{"i":117,"t":4.34,"s":"Dead"},{"i":86,"t":4.51,"s":"Dead"},{"i":157,"t":4.2,"s":"Dead"},{"i":293,"t":4.17,"s":"Dead"},{"i":310,"t":4.37,"s":"Dead"},{"i":328,"t":4.25,"s":"Dead"},{"i":272,"t":4.11,"s":"Dead"},{"i":119,"t":3.99,"s":"Dead"},{"i":396,"t":3.75,"s":"Dead"},{"i":41,"t":3.75,"s":"Dead"},{"i":35,"t":3.64,"s":"Dead"},{"i":348,"t":3.72,"s":"Dead"},{"i":296,"t":3.72,"s":"Dead"},{"i":200,"t":3.59,"s":"Dead"},{"i":181,"t":3.41,"s":"Dead"},{"i":243,"t":3.33,"s":"Dead"},{"i":95,"t":3.46,"s":"Dead"},{"i":37,"t":3.27,"s":"Dead"},{"i":246,"t":3.21,"s":"Dead"},{"i":294,"t":3.27,"s":"Dead"},{"i":392,"t":3.09,"s":"Dead"},{"i":101,"t":2.95,"s":"Dead"},{"i":186,"t":2.91,"s":"Dead"},{"i":114,"t":3.03,"s":"Dead"},{"i":82,"t":2.86,"s":"Dead"},{"i":361,"t":2.83,"s":"Dead"},{"i":26,"t":2.57,"s":"Dead"},{"i":70,"t":2.55,"s":"Dead"},{"i":108,"t":2.49,"s":"Dead"},{"i":149,"t":2.75,"s":"Dead"},{"i":210,"t":2.97,"s":"Dead"},{"i":232,"t":2.45,"s":"Dead"},{"i":241,"t":2.6,"s":"Dead"},{"i":232,"t":2.83,"s":"Dead"},{"i":350,"t":2.57,"s":"Dead"},{"i":417,"t":2.54,"s":"Dead"},{"i":47,"t":2.34,"s":"Dead"},{"i":139,"t":2.32,"s":"Dead"},{"i":170,"t":2.34,"s":"Dead"},{"i":177,"t":2.23,"s":"Dead"},{"i":186,"t":2.29,"s":"Dead"},{"i":248,"t":2.32,"s":"Dead"},{"i":368,"t":2.29,"s":"Dead"},{"i":373,"t":2.29,"s":"Dead"},{"i":379,"t":2.11,"s":"Dead"},{"i":421,"t":2.19,"s":"Dead"},{"i":63,"t":2.14,"s":"Dead"},{"i":82,"t":2.11,"s":"Dead"},{"i":98,"t":2.14,"s":"Dead"},{"i":99,"t":1.99,"s":"Dead"},{"i":129,"t":1.9,"s":"Dead"},{"i":159,"t":2.02,"s":"Dead"},{"i":219,"t":1.76,"s":"Dead"},{"i":405,"t":1.99,"s":"Dead"},{"i":414,"t":1.87,"s":"Dead"},{"i":359,"t":1.83,"s":"Dead"},{"i":113,"t":1.76,"s":"Dead"},{"i":118,"t":1.84,"s":"Dead"},{"i":131,"t":1.68,"s":"Dead"},{"i":180,"t":1.87,"s":"Dead"},{"i":22,"t":1.53,"s":"Dead"},{"i":24,"t":1.53,"s":"Dead"},{"i":67,"t":1.57,"s":"Dead"},{"i":113,"t":1.56,"s":"Dead"},{"i":155,"t":1.57,"s":"Dead"},{"i":195,"t":1.53,"s":"Dead"},{"i":214,"t":1.38,"s":"Dead"},{"i":279,"t":1.38,"s":"Dead"},{"i":283,"t":1.41,"s":"Dead"},{"i":309,"t":1.38,"s":"Dead"},{"i":325,"t":1.45,"s":"Dead"},{"i":361,"t":1.5,"s":"Dead"},{"i":401,"t":1.53,"s":"Dead"},{"i":410,"t":1.42,"s":"Dead"},{"i":414,"t":1.38,"s":"Dead"},{"i":428,"t":1.3,"s":"Dead"},{"i":392,"t":1.53,"s":"Dead"},{"i":342,"t":1.38,"s":"Dead"},{"i":379,"t":1.64,"s":"Dead"},{"i":49,"t":1.38,"s":"Dead"},{"i":74,"t":1.07,"s":"Dead"},{"i":78,"t":1.15,"s":"Dead"},{"i":53,"t":0.98,"s":"Dead"},{"i":39,"t":0.99,"s":"Dead"},{"i":69,"t":0.87,"s":"Dead"},{"i":97,"t":0.98,"s":"Dead"},{"i":100,"t":0.89,"s":"Dead"},{"i":96,"t":1.07,"s":"Dead"},{"i":146,"t":1.25,"s":"Dead"},{"i":170,"t":1.28,"s":"Dead"},{"i":184,"t":1.04,"s":"Dead"},{"i":213,"t":1.38,"s":"Dead"},{"i":224,"t":1.07,"s":"Dead"},{"i":239,"t":1.41,"s":"Dead"},{"i":259,"t":1.13,"s":"Dead"},{"i":272,"t":0.92,"s":"Dead"},{"i":282,"t":1.18,"s":"Dead"},{"i":291,"t":1.1,"s":"Dead"},{"i":302,"t":0.83,"s":"Dead"},{"i":315,"t":0.92,"s":"Dead"},{"i":321,"t":1.07,"s":"Dead"},{"i":327,"t":0.98,"s":"Dead"},{"i":330,"t":0.8,"s":"Dead"},{"i":365,"t":1.07,"s":"Dead"},{"i":397,"t":0.98,"s":"Dead"},{"i":402,"t":0.92,"s":"Dead"},{"i":407,"t":0.83,"s":"Dead"},{"i":412,"t":0.92,"s":"Dead"},{"i":423,"t":0.95,"s":"Dead"},{"i":429,"t":0.73,"s":"Dead"},{"i":251,"t":0.8,"s":"Dead"},{"i":252,"t":0.92,"s":"Dead"},{"i":8,"t":0.6,"s":"Dead"},{"i":12,"t":0.6,"s":"Dead"},{"i":10,"t":0.52,"s":"Dead"},{"i":11,"t":0.35,"s":"Dead"},{"i":15,"t":0.2,"s":"Dead"},{"i":29,"t":0.58,"s":"Dead"},{"i":88,"t":0.37,"s":"Dead"},{"i":109,"t":0.69,"s":"Dead"},{"i":113,"t":0.61,"s":"Dead"},{"i":115,"t":0.67,"s":"Dead"},{"i":135,"t":0.46,"s":"Dead"},{"i":162,"t":0.37,"s":"Dead"},{"i":206,"t":0.66,"s":"Dead"},{"i":202,"t":0.2,"s":"Dead"},{"i":231,"t":0.41,"s":"Dead"},{"i":236,"t":0.14,"s":"Dead"},{"i":269,"t":0.28,"s":"Dead"},{"i":281,"t":0.32,"s":"Dead"},{"i":332,"t":0.64,"s":"Dead"},{"i":334,"t":0.43,"s":"Dead"},{"i":340,"t":0.23,"s":"Dead"},{"i":352,"t":0.17,"s":"Dead"},{"i":365,"t":0.58,"s":"Dead"},{"i":370,"t":0.37,"s":"Dead"},{"i":372,"t":0.29,"s":"Dead"},{"i":383,"t":0.35,"s":"Dead"},{"i":402,"t":0.21,"s":"Dead"},{"i":406,"t":0.46,"s":"Dead"},{"i":400,"t":0.5,"s":"Dead"},{"i":409,"t":0.54,"s":"Dead"},{"i":422,"t":0.72,"s":"Dead"}
]
},
"resolve":{"scale":{"color":"independent"},"legend":{"color":"independent"}},
"spacing":24,
"hconcat":[
{"title":{"text":"A","anchor":"start","fontSize":24,"offset":-20,"dx":7,"color":"#111"},
 "spacing":3,
 "resolve":{"scale":{"color":"independent"},"legend":{"color":"independent"}},
 "vconcat":[
  {"width":335,"height":298,
   "title":{"text":"LGG in TCGA (n=524)","anchor":"start","frame":"group","dx":53,"fontSize":18,"offset":4},
   "data":{"name":"lineA"},
   "mark":{"type":"line","color":"#000","strokeWidth":1},
   "encoding":{
    "x":{"field":"i","type":"quantitative","scale":{"domain":[-20,545],"nice":false,"zero":false},"axis":null},
    "y":{"field":"v","type":"quantitative","scale":{"domain":[8.08,15.66],"nice":false,"zero":false},"axis":{"values":[9,10,11,12,13,14,15],"title":"SBF2-AS1 expression"}}}},
  {"width":335,"height":299,
   "data":{"name":"scatA"},
   "mark":{"type":"point","filled":false,"size":30,"strokeWidth":1,"opacity":1},
   "encoding":{
    "x":{"field":"i","type":"quantitative","scale":{"domain":[-20,545],"nice":false,"zero":false},"axis":{"values":[0,100,200,300,400,500],"title":"Sample Index","titleX":158}},
    "y":{"field":"t","type":"quantitative","scale":{"domain":[-0.7,18.34],"nice":false,"zero":false},"axis":{"values":[0,5,10,15],"title":"Survival time","titleY":157}},
    "color":{"field":"s","type":"nominal","scale":{"domain":["Dead","Alive"],"range":["#ff0000","#000000"]},"legend":{"title":null}}}}
 ]},
{"title":{"text":"B","anchor":"start","fontSize":24,"offset":-20,"dx":-1,"color":"#111"},
 "spacing":3,
 "resolve":{"scale":{"color":"independent"},"legend":{"color":"independent"}},
 "vconcat":[
  {"width":333,"height":298,
   "title":{"text":"LGG in CGGA (n=431)","anchor":"start","frame":"group","dx":53,"fontSize":18,"offset":4},
   "data":{"name":"lineB"},
   "mark":{"type":"line","color":"#000","strokeWidth":1},
   "encoding":{
    "x":{"field":"i","type":"quantitative","scale":{"domain":[-16,443.5],"nice":false,"zero":false},"axis":null},
    "y":{"field":"v","type":"quantitative","scale":{"domain":[-0.27,6.86],"nice":false,"zero":false},"axis":{"values":[0,1,2,3,4,5,6],"title":"SBF2-AS1 expression"}}}},
  {"width":333,"height":299,
   "data":{"name":"scatB"},
   "mark":{"type":"point","filled":false,"size":30,"strokeWidth":1,"opacity":1},
   "encoding":{
    "x":{"field":"i","type":"quantitative","scale":{"domain":[-16,443.5],"nice":false,"zero":false},"axis":{"values":[0,100,200,300,400],"title":"Sample Index","titleX":180}},
    "y":{"field":"t","type":"quantitative","scale":{"domain":[-0.35,13.42],"nice":false,"zero":false},"axis":{"values":[0,2,4,6,8,10,12],"title":"Survival time","titleY":154}},
    "color":{"field":"s","type":"nominal","scale":{"domain":["Dead","Alive"],"range":["#ff0000","#000000"]},"legend":{"title":null}}}}
 ]}
]
}
